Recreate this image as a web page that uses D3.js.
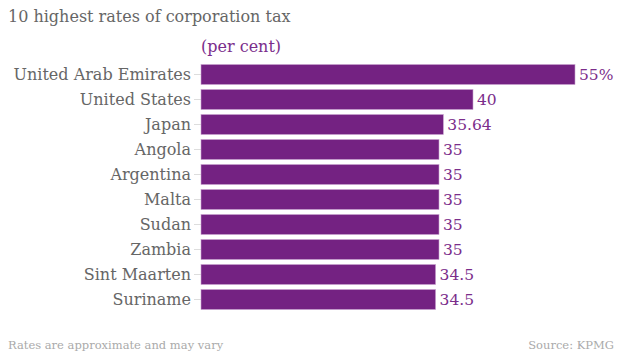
<!DOCTYPE html>
<html>
<head>
<meta charset="utf-8">
<script src="https://cdn.jsdelivr.net/npm/d3@7"></script>
<style>
  body { margin: 0; background: #fff; }
  text { font-family: "DejaVu Serif", serif; }
</style>
</head>
<body>
<svg id="chart"></svg>
<script>
// data
const countries = ["United Arab Emirates", "United States", "Japan", "Angola", "Argentina",
                   "Malta", "Sudan", "Zambia", "Sint Maarten", "Suriname"];
const rates = [55, 40, 35.64, 35, 35, 35, 35, 35, 34.5, 34.5];
const valueLabels = ["55%", "40", "35.64", "35", "35", "35", "35", "35", "34.5", "34.5"];

const width = 620, height = 354;
const margin = { top: 62, left: 201, right: 45, bottom: 41 };

const svg = d3.select("#chart")
    .attr("width", width)
    .attr("height", height);

const chart = svg.append("g")
    .attr("transform", `translate(${margin.left},${margin.top})`);

const data = countries.map((c, i) => ({ country: c, rate: rates[i], label: valueLabels[i] }));

const x = d3.scaleLinear()
    .domain([0, 55])
    .range([0, 374]);

const y = d3.scaleBand()
    .domain(countries)
    .range([0, 250])
    .paddingInner(0.2)
    .paddingOuter(0.1);

// title
svg.append("text")
    .attr("x", 8)
    .attr("y", 22)
    .attr("fill", "#666")
    .style("font-size", "16px")
    .text("10 highest rates of corporation tax");

svg.append("text")
    .attr("x", margin.left)
    .attr("y", 52)
    .attr("fill", "#7b2d8b")
    .style("font-size", "16px")
    .text("(per cent)");

// y axis with country labels
const yAxis = d3.axisLeft(y).tickSize(7).tickPadding(3);
const yG = chart.append("g").attr("class", "y-axis").call(yAxis);
yG.select(".domain").remove();
yG.selectAll("line").attr("stroke", "#ddd");
yG.selectAll("text")
    .attr("fill", "#666")
    .style("font-size", "16px")
    .style("font-family", '"DejaVu Serif", serif');

// bars
chart.selectAll(".bar")
    .data(data)
    .join("rect")
    .attr("class", "bar")
    .attr("x", 0)
    .attr("y", d => y(d.country))
    .attr("width", d => x(d.rate))
    .attr("height", y.bandwidth())
    .attr("fill", "#742282")
    .attr("stroke", "#c9a3cf")
    .attr("stroke-width", 0.6);

// value labels
chart.selectAll(".val")
    .data(data)
    .join("text")
    .attr("class", "val")
    .attr("x", d => x(d.rate) + 4)
    .attr("y", d => y(d.country) + y.bandwidth() / 2)
    .attr("dy", "0.36em")
    .attr("fill", "#7b2d8b")
    .style("font-size", "15.5px")
    .text(d => d.label);

// footer
svg.append("text")
    .attr("x", 8)
    .attr("y", 349)
    .attr("fill", "#aaa")
    .style("font-size", "11.5px")
    .text("Rates are approximate and may vary");

svg.append("text")
    .attr("x", 614)
    .attr("y", 349)
    .attr("text-anchor", "end")
    .attr("fill", "#aaa")
    .style("font-size", "11.5px")
    .text("Source: KPMG");
</script>
</body>
</html>
